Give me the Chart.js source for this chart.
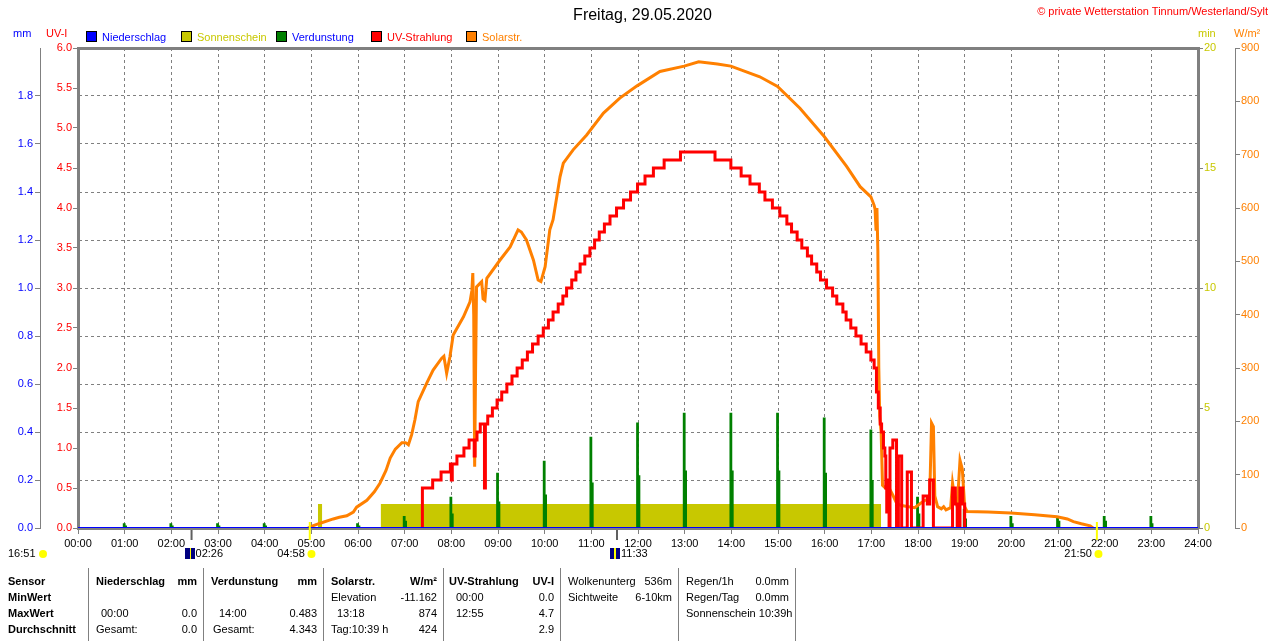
<!DOCTYPE html>
<html lang="de">
<head>
    <meta charset="UTF-8">
    <meta name="viewport" content="width=device-width, initial-scale=1.0">
    <title>Wetterstation Tinnum - Freitag, 29.05.2020</title>
    <script src="https://cdn.jsdelivr.net/npm/chart.js"></script>
    <style>
        body {
            margin: 0;
            background: #fff;
            font-family: "Liberation Sans", Arial, sans-serif;
            font-size: 11px;
        }
        #wrap {
            position: relative;
            width: 1280px;
            height: 641px;
            overflow: hidden;
        }
        #chart { position: absolute; left: 0; top: 0; }
        .abs { position: absolute; white-space: nowrap; line-height: 13px; z-index: 2; }
        #title { left: 0; width: 1285px; top: 6px; text-align: center; font-size: 16px; line-height: 18px; }
        #copy { right: 12px; top: 5px; color: #ff0000; }
        .unit { top: 27px; }
        .leg { top: 31px; }
        .leg i {
            display: inline-block;
            width: 9px;
            height: 9px;
            border: 1px solid #000;
            vertical-align: -1px;
            margin-right: 5px;
        }
        .astro { top: 547px; }
        .sun {
            display: inline-block;
            width: 8px;
            height: 8px;
            border-radius: 50%;
            background: #ffff00;
            margin-left: 3px;
            vertical-align: -1px;
        }
        .moon {
            display: inline-block;
            width: 10px;
            height: 11px;
            background: linear-gradient(90deg, #000080 45%, #ffff00 45%, #ffff00 60%, #000080 60%);
            margin-right: 1px;
            vertical-align: -2px;
        }
        .col {
            position: absolute;
            top: 568px;
            height: 73px;
            border-left: 1px solid #808080;
            padding-top: 5px;
            box-sizing: border-box;
            z-index: 2;
        }
        .r {
            height: 16px;
            line-height: 16px;
            display: flex;
            justify-content: space-between;
            padding: 0 6px 0 7px;
            white-space: nowrap;
        }
        .b { font-weight: bold; }
    </style>
</head>
<body>
<div id="wrap">
    <canvas id="chart" width="1280" height="641"></canvas>

    <div class="abs" id="title">Freitag, 29.05.2020</div>
    <div class="abs" id="copy">© private Wetterstation Tinnum/Westerland/Sylt</div>

    <div class="abs unit" style="left:13px;color:#0000ff">mm</div>
    <div class="abs unit" style="left:46px;color:#ff0000">UV-I</div>
    <div class="abs unit" style="left:1198px;color:#c8c800">min</div>
    <div class="abs unit" style="left:1234px;color:#ff8000">W/m²</div>

    <div class="abs leg" style="left:86px;color:#0000ff"><i style="background:#0000ff"></i>Niederschlag</div>
    <div class="abs leg" style="left:181px;color:#c8c800"><i style="background:#c8c800"></i>Sonnenschein</div>
    <div class="abs leg" style="left:276px;color:#0000ff"><i style="background:#008000"></i>Verdunstung</div>
    <div class="abs leg" style="left:371px;color:#ff0000"><i style="background:#ff0000"></i>UV-Strahlung</div>
    <div class="abs leg" style="left:466px;color:#ff8000"><i style="background:#ff8000"></i>Solarstr.</div>

    <div class="abs astro" style="left:8px">16:51<span class="sun"></span></div>
    <div id="astroLabels"></div>

    <!-- Tabelle unter dem Diagramm -->
    <div class="col" style="left:0;width:88px;border-left:none">
        <div class="r b" style="padding-left:8px">Sensor</div>
        <div class="r b" style="padding-left:8px">MinWert</div>
        <div class="r b" style="padding-left:8px">MaxWert</div>
        <div class="r b" style="padding-left:8px">Durchschnitt</div>
    </div>
    <div class="col" style="left:88px;width:115px">
        <div class="r b"><span>Niederschlag</span><span>mm</span></div>
        <div class="r"></div>
        <div class="r"><span style="padding-left:5px">00:00</span><span>0.0</span></div>
        <div class="r"><span>Gesamt:</span><span>0.0</span></div>
    </div>
    <div class="col" style="left:203px;width:120px">
        <div class="r b"><span>Verdunstung</span><span>mm</span></div>
        <div class="r"></div>
        <div class="r"><span style="padding-left:8px">14:00</span><span>0.483</span></div>
        <div class="r"><span style="padding-left:2px">Gesamt:</span><span>4.343</span></div>
    </div>
    <div class="col" style="left:323px;width:120px">
        <div class="r b"><span>Solarstr.</span><span>W/m²</span></div>
        <div class="r"><span>Elevation</span><span>-11.162</span></div>
        <div class="r"><span style="padding-left:6px">13:18</span><span>874</span></div>
        <div class="r"><span>Tag:10:39 h</span><span>424</span></div>
    </div>
    <div class="col" style="left:443px;width:117px">
        <div class="r b" style="padding-left:5px"><span>UV-Strahlung</span><span>UV-I</span></div>
        <div class="r"><span style="padding-left:5px">00:00</span><span>0.0</span></div>
        <div class="r"><span style="padding-left:5px">12:55</span><span>4.7</span></div>
        <div class="r"><span></span><span>2.9</span></div>
    </div>
    <div class="col" style="left:560px;width:118px">
        <div class="r"><span>Wolkenunterg</span><span>536m</span></div>
        <div class="r"><span>Sichtweite</span><span>6-10km</span></div>
        <div class="r"></div>
        <div class="r"></div>
    </div>
    <div class="col" style="left:678px;width:117px">
        <div class="r"><span>Regen/1h</span><span>0.0mm</span></div>
        <div class="r"><span>Regen/Tag</span><span>0.0mm</span></div>
        <div class="r"><span>Sonnenschein 10:39h</span></div>
        <div class="r"></div>
    </div>
    <div class="col" style="left:795px;width:10px"></div>
</div>

<script>
    // Zeitachse (Stunden) und Beschriftung
    const hourLabels = ['00:00', '01:00', '02:00', '03:00', '04:00', '05:00', '06:00', '07:00', '08:00',
        '09:00', '10:00', '11:00', '12:00', '13:00', '14:00', '15:00', '16:00', '17:00', '18:00',
        '19:00', '20:00', '21:00', '22:00', '23:00', '24:00'];

    // Niederschlag (mm) - den ganzen Tag 0
    const rainTimes = [0, 24];
    const rainValues = [0, 0];

    // Sonnenschein (min)
    const sunTimes = [5.14, 5.23, 6.49, 17.21];
    const sunValues = [1, 0, 1, 0];

    // Verdunstung (mm) - stündliche Spitzen
    const evapHours = [1, 2, 3, 4, 6, 7, 8, 9, 10, 11, 12, 13, 14, 15, 16, 17, 18, 19, 20, 21, 22, 23];
    const evapPeak = [0.02, 0.02, 0.02, 0.02, 0.02, 0.05, 0.13, 0.23, 0.28, 0.38, 0.44, 0.48, 0.48, 0.48, 0.46, 0.41, 0.13, 0.08, 0.05, 0.05, 0.05, 0.05];
    const evapShoulder = [0.01, 0.01, 0.01, 0.01, 0.01, 0.03, 0.06, 0.11, 0.14, 0.19, 0.22, 0.24, 0.24, 0.24, 0.23, 0.20, 0.06, 0.04, 0.02, 0.03, 0.03, 0.02];

    // UV-Strahlung (UV-I)
    const uvTimes = [7.37, 7.38, 7.60, 7.78, 7.98, 8.00, 8.02, 8.12, 8.27, 8.38, 8.49, 8.51, 8.55, 8.62, 8.71, 8.73,
        8.78, 8.88, 8.98, 9.08, 9.19, 9.30, 9.41, 9.52, 9.63, 9.74, 9.86, 9.97, 10.08, 10.18, 10.29, 10.39,
        10.47, 10.58, 10.67, 10.76, 10.86, 10.97, 11.07, 11.17, 11.28, 11.40, 11.54, 11.69, 11.84, 11.99,
        12.15, 12.33, 12.56, 12.91, 13.65, 13.99, 14.21, 14.40, 14.60, 14.72, 14.88, 15.04, 15.19, 15.29,
        15.41, 15.51, 15.63, 15.72, 15.83, 15.91, 16.04, 16.17, 16.26, 16.39, 16.46, 16.56, 16.67, 16.78,
        16.89, 16.99, 17.06, 17.11, 17.15, 17.19, 17.22, 17.26, 17.29, 17.31, 17.33, 17.36, 17.38, 17.40,
        17.46, 17.54, 17.58, 17.65, 17.77, 17.86, 18.11, 18.20, 18.25, 18.33, 18.74, 18.80, 18.84, 18.90,
        18.96, 19.00];
    const uvValues = [0, 0.5, 0.6, 0.7, 0.8, 0.6, 0.8, 0.9, 1.0, 1.1, 0.9, 1.1, 1.2, 1.3, 0.5, 1.3,
        1.4, 1.5, 1.6, 1.7, 1.8, 1.9, 2.0, 2.1, 2.2, 2.3, 2.4, 2.5, 2.6, 2.7, 2.8, 2.9,
        3.0, 3.1, 3.2, 3.3, 3.4, 3.5, 3.6, 3.7, 3.8, 3.9, 4.0, 4.1, 4.2, 4.3,
        4.4, 4.5, 4.6, 4.7, 4.6, 4.5, 4.4, 4.3, 4.2, 4.1, 4.0, 3.9, 3.8, 3.7,
        3.6, 3.5, 3.4, 3.3, 3.2, 3.1, 3.0, 2.9, 2.8, 2.7, 2.6, 2.5, 2.4, 2.3,
        2.2, 2.1, 2.0, 1.7, 1.5, 1.3, 1.2, 1.0, 0.9, 0.5, 0.2, 0.6, 0.0, 1.0,
        1.1, 0.0, 0.9, 0.0, 0.7, 0.0, 0.4, 0.3, 0.6, 0.0, 0.5, 0.3, 0.0, 0.5,
        0.3, 0.0];

    // Solarstrahlung (W/m²)
    const solarTimes = [4.93, 5.00, 5.19, 5.47, 5.60, 5.76, 5.90, 5.97, 6.19, 6.35, 6.47, 6.60, 6.69, 6.80, 6.94,
        7.02, 7.08, 7.15, 7.22, 7.29, 7.47, 7.61, 7.79, 7.84, 7.90, 7.97, 8.04, 8.26, 8.40, 8.44, 8.46,
        8.48, 8.50, 8.52, 8.54, 8.65, 8.68, 8.72, 8.76, 9.04, 9.26, 9.43, 9.50, 9.61, 9.76, 9.86, 9.92,
        10.01, 10.11, 10.18, 10.33, 10.40, 10.61, 10.90, 11.26, 11.61, 11.98, 12.47, 12.99, 13.30, 13.70,
        13.99, 14.61, 14.99, 15.47, 15.99, 16.47, 16.76, 16.99, 17.06, 17.08, 17.10, 17.12, 17.14, 17.16,
        17.18, 17.21, 17.24, 17.30, 17.40, 17.47, 17.55, 17.65, 17.80, 17.93, 18.05, 18.15, 18.25, 18.29,
        18.33, 18.36, 18.42, 18.50, 18.55, 18.60, 18.70, 18.74, 18.78, 18.84, 18.90, 18.95, 19.00, 19.05,
        19.50, 19.99, 20.50, 20.98, 21.20, 21.33, 21.50, 21.69, 21.75];
    const solarValues = [0, 3, 9, 17, 20, 23, 30, 39, 52, 68, 84, 108, 131, 148, 160,
        160, 156, 175, 203, 237, 271, 296, 318, 322, 290, 321, 362, 396, 424, 445, 478,
        400, 115, 300, 452, 462, 430, 427, 468, 502, 527, 559, 555, 540, 502, 465, 462,
        490, 559, 578, 659, 684, 709, 737, 778, 806, 829, 856, 866, 874, 870,
        866, 846, 828, 787, 734, 678, 640, 621, 605, 598, 560, 600, 520, 300,
        210, 180, 80, 75, 72, 60, 45, 42, 40, 38, 46, 52, 55, 197,
        190, 60, 40, 36, 40, 34, 38, 84, 60, 40, 127, 110, 40, 31,
        30, 28, 25, 21, 17, 12, 8, 4, 0];

    // Mond- und Sonnenzeiten unter der Zeitachse
    const astroEvents = [
        { label: '02:26', time: 2 + 26 / 60, kind: 'moon' },
        { label: '04:58', time: 4 + 58 / 60, kind: 'sun' },
        { label: '11:33', time: 11 + 33 / 60, kind: 'moon' },
        { label: '21:50', time: 21 + 50 / 60, kind: 'sun' }
    ];

    const GRAY = '#808080';
    const NONE = 'rgba(0,0,0,0)';

    function toPoints(xs, ys) {
        return xs.map((x, i) => ({ x: x, y: ys[i] }));
    }

    // Verdunstungsspitzen als schmale Treppen
    const evapPoints = [{ x: 0, y: 0 }];
    evapHours.forEach((h, i) => {
        evapPoints.push({ x: h - 0.04, y: evapPeak[i] });
        evapPoints.push({ x: h + 0.02, y: evapShoulder[i] });
        evapPoints.push({ x: h + 0.05, y: 0 });
    });

    // kleine Markierungen für Mond/Sonne an der Zeitachse
    const astroMarks = {
        id: 'astroMarks',
        afterDraw(chart) {
            const ctx = chart.ctx;
            const bottom = chart.chartArea.bottom;
            const xs = chart.scales.x;
            ctx.save();
            ctx.lineWidth = 2;
            astroEvents.forEach(ev => {
                const px = xs.getPixelForValue(ev.time);
                ctx.strokeStyle = ev.kind === 'moon' ? '#606060' : '#ffff00';
                ctx.beginPath();
                ctx.moveTo(px, ev.kind === 'moon' ? bottom + 2 : bottom - 6);
                ctx.lineTo(px, bottom + 12);
                ctx.stroke();
            });
            ctx.restore();
        }
    };

    Chart.defaults.font.family = '"Liberation Sans", Arial, sans-serif';
    Chart.defaults.font.size = 11;

    const chart = new Chart(document.getElementById('chart'), {
        type: 'line',
        data: {
            datasets: [
                {
                    label: 'Niederschlag',
                    data: toPoints(rainTimes, rainValues),
                    yAxisID: 'yRain',
                    borderColor: '#0000ff',
                    borderWidth: 2,
                    pointRadius: 0,
                    order: 0
                },
                {
                    label: 'UV-Strahlung',
                    data: toPoints(uvTimes, uvValues),
                    yAxisID: 'yUV',
                    borderColor: '#ff0000',
                    borderWidth: 3,
                    pointRadius: 0,
                    stepped: 'before',
                    order: 1
                },
                {
                    label: 'Solarstr.',
                    data: toPoints(solarTimes, solarValues),
                    yAxisID: 'ySolar',
                    borderColor: '#ff8000',
                    borderWidth: 3,
                    pointRadius: 0,
                    tension: 0,
                    order: 2
                },
                {
                    label: 'Verdunstung',
                    data: evapPoints,
                    yAxisID: 'yRain',
                    borderColor: NONE,
                    backgroundColor: '#008000',
                    borderWidth: 0,
                    pointRadius: 0,
                    stepped: 'before',
                    fill: 'origin',
                    order: 3
                },
                {
                    label: 'Sonnenschein',
                    data: toPoints(sunTimes, sunValues),
                    yAxisID: 'ySun',
                    borderColor: NONE,
                    backgroundColor: '#c8c800',
                    borderWidth: 0,
                    pointRadius: 0,
                    stepped: 'before',
                    fill: 'origin',
                    order: 4
                }
            ]
        },
        options: {
            responsive: false,
            animation: false,
            layout: { padding: { left: 0, right: 0, top: 48, bottom: 83 } },
            plugins: {
                legend: { display: false },
                title: { display: false },
                tooltip: { enabled: false }
            },
            scales: {
                x: {
                    type: 'linear',
                    position: 'bottom',
                    min: 0,
                    max: 24,
                    ticks: {
                        stepSize: 1,
                        autoSkip: false,
                        maxRotation: 0,
                        color: '#000',
                        padding: 3,
                        callback: v => hourLabels[v]
                    },
                    grid: {
                        color: c => (c.tick && (c.tick.value === 0 || c.tick.value === 24)) ? NONE : GRAY,
                        tickColor: GRAY,
                        tickLength: 6
                    },
                    border: { color: GRAY, width: 3, dash: [3, 3] },
                    afterFit: s => { s.height = 30; }
                },
                xTop: {
                    type: 'linear',
                    position: 'top',
                    display: true,
                    min: 0,
                    max: 24,
                    ticks: { display: false },
                    grid: { display: false, drawTicks: false },
                    border: { color: GRAY, width: 3 },
                    afterFit: s => { s.height = 0; }
                },
                yUV: {
                    position: 'left',
                    weight: 0,
                    min: 0,
                    max: 6,
                    ticks: {
                        stepSize: 0.5,
                        autoSkip: false,
                        color: '#ff0000',
                        padding: 1,
                        callback: v => v.toFixed(1)
                    },
                    grid: { drawOnChartArea: false, tickLength: 5, tickColor: GRAY },
                    border: { color: GRAY, width: 3 },
                    afterFit: s => { s.width = 38; }
                },
                yRain: {
                    position: 'left',
                    weight: 1,
                    min: 0,
                    max: 2,
                    ticks: {
                        stepSize: 0.2,
                        autoSkip: false,
                        color: '#0000ff',
                        padding: 2,
                        callback: v => v > 1.99 ? '' : v.toFixed(1)
                    },
                    grid: {
                        color: c => (c.tick && (c.tick.value < 0.01 || c.tick.value > 1.99)) ? NONE : GRAY,
                        tickColor: c => (c.tick && c.tick.value > 1.99) ? NONE : GRAY,
                        tickLength: 5
                    },
                    border: { color: GRAY, width: 1, dash: [3, 3] },
                    afterFit: s => { s.width = 40; }
                },
                ySun: {
                    position: 'right',
                    weight: 0,
                    min: 0,
                    max: 20,
                    ticks: { stepSize: 5, color: '#c8c800', padding: 1 },
                    grid: { drawOnChartArea: false, tickLength: 5, tickColor: GRAY },
                    border: { color: GRAY, width: 3 },
                    afterFit: s => { s.width = 37; }
                },
                ySolar: {
                    position: 'right',
                    weight: 1,
                    min: 0,
                    max: 900,
                    ticks: { stepSize: 100, color: '#ff8000', padding: 1 },
                    grid: { drawOnChartArea: false, tickLength: 5, tickColor: GRAY },
                    border: { color: GRAY, width: 1 },
                    afterFit: s => { s.width = 45; }
                }
            }
        },
        plugins: [astroMarks]
    });

    // Beschriftungen der Mond-/Sonnenzeiten an der richtigen Stelle der Zeitachse
    const astroBox = document.getElementById('astroLabels');
    astroEvents.forEach(ev => {
        const px = chart.scales.x.getPixelForValue(ev.time);
        const el = document.createElement('div');
        el.className = 'abs astro';
        if (ev.kind === 'moon') {
            el.innerHTML = '<span class="moon"></span>' + ev.label;
            el.style.left = (px - 7) + 'px';
        } else {
            el.innerHTML = ev.label + '<span class="sun"></span>';
            el.style.left = (px + 6) + 'px';
            el.style.transform = 'translateX(-100%)';
        }
        astroBox.appendChild(el);
    });
</script>
</body>
</html>
